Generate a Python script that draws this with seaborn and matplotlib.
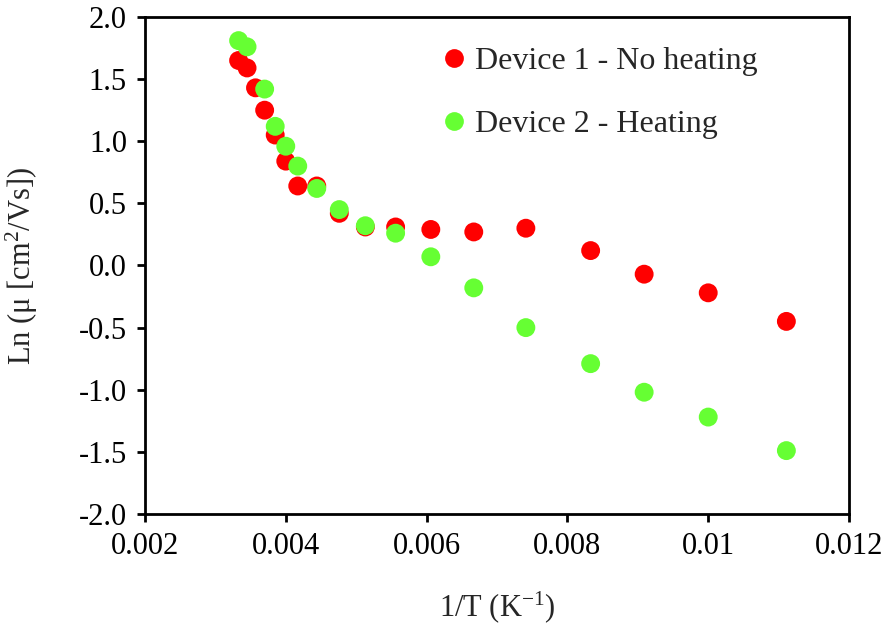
import numpy as np
import pandas as pd
import matplotlib
matplotlib.use("Agg")
import matplotlib.pyplot as plt
import seaborn as sns

# --- data ---
inv_T_dev1 = [0.00333, 0.00345, 0.00357, 0.00370, 0.00385, 0.00400, 0.00417,
              0.00444, 0.00476, 0.00513, 0.00556, 0.00606, 0.00667, 0.00741,
              0.00833, 0.00909, 0.01000, 0.01111]
ln_mu_dev1 = [1.65, 1.59, 1.43, 1.25, 1.05, 0.84, 0.64,
              0.64, 0.42, 0.31, 0.31, 0.29, 0.27, 0.30,
              0.12, -0.07, -0.22, -0.45]

inv_T_dev2 = [0.00333, 0.00345, 0.00370, 0.00385, 0.00400, 0.00417,
              0.00444, 0.00476, 0.00513, 0.00556, 0.00606, 0.00667, 0.00741,
              0.00833, 0.00909, 0.01000, 0.01111]
ln_mu_dev2 = [1.81, 1.76, 1.42, 1.12, 0.96, 0.80,
              0.62, 0.45, 0.32, 0.26, 0.07, -0.18, -0.50,
              -0.79, -1.02, -1.22, -1.49]

labels = ["Device 1 - No heating", "Device 2 - Heating"]
colors = ["#FF0000", "#66FF33"]

x_ticks = [0.002, 0.004, 0.006, 0.008, 0.010, 0.012]
x_tick_labels = ["0.002", "0.004", "0.006", "0.008", "0.01", "0.012"]
y_ticks = [-2.0, -1.5, -1.0, -0.5, 0.0, 0.5, 1.0, 1.5, 2.0]

df = pd.concat([
    pd.DataFrame({"x": inv_T_dev1, "y": ln_mu_dev1, "device": labels[0]}),
    pd.DataFrame({"x": inv_T_dev2, "y": ln_mu_dev2, "device": labels[1]}),
])

sns.set_style("ticks")
plt.rcParams["font.family"] = ["Liberation Serif", "DejaVu Serif"]
plt.rcParams["axes.unicode_minus"] = False
plt.rcParams["mathtext.fontset"] = "custom"
plt.rcParams["mathtext.rm"] = "Liberation Serif"
plt.rcParams["mathtext.it"] = "Liberation Serif:italic"

FS = 22

fig = plt.figure(figsize=(8.91, 6.23), dpi=100)
ax = fig.add_axes([0.1627, 0.175, 0.7902, 0.7977])

sns.scatterplot(data=df, x="x", y="y", hue="device", palette=colors,
                s=185, edgecolor="none", linewidth=0, alpha=1, ax=ax, zorder=3)

ax.set_xlim(0.002, 0.012)
ax.set_ylim(-2.0, 2.0)
ax.set_xticks(x_ticks)
ax.set_xticklabels(x_tick_labels)
ax.set_yticks(y_ticks)
ax.set_yticklabels([f"{v:.1f}" for v in y_ticks])

for sp in ax.spines.values():
    sp.set_visible(True)
    sp.set_linewidth(2.0)
    sp.set_color("black")

ax.tick_params(direction="out", length=6, width=2.0, labelsize=FS, pad=7,
               colors="black")

ax.set_xlabel("1/T (K$^{-1}$)", fontsize=FS, labelpad=20)
ax.set_ylabel("Ln (\u03bc [cm$^{2}$/Vs])", fontsize=FS, labelpad=28)

leg = ax.legend(loc="upper left", bbox_to_anchor=(0.416, 0.94), frameon=False,
                fontsize=FS + 1, handlelength=1.0, handletextpad=0.15,
                labelspacing=1.05, borderpad=0, borderaxespad=0)
for h in leg.legend_handles:
    h.set_markersize(13.5)

fig.savefig("out.png", dpi=100)
